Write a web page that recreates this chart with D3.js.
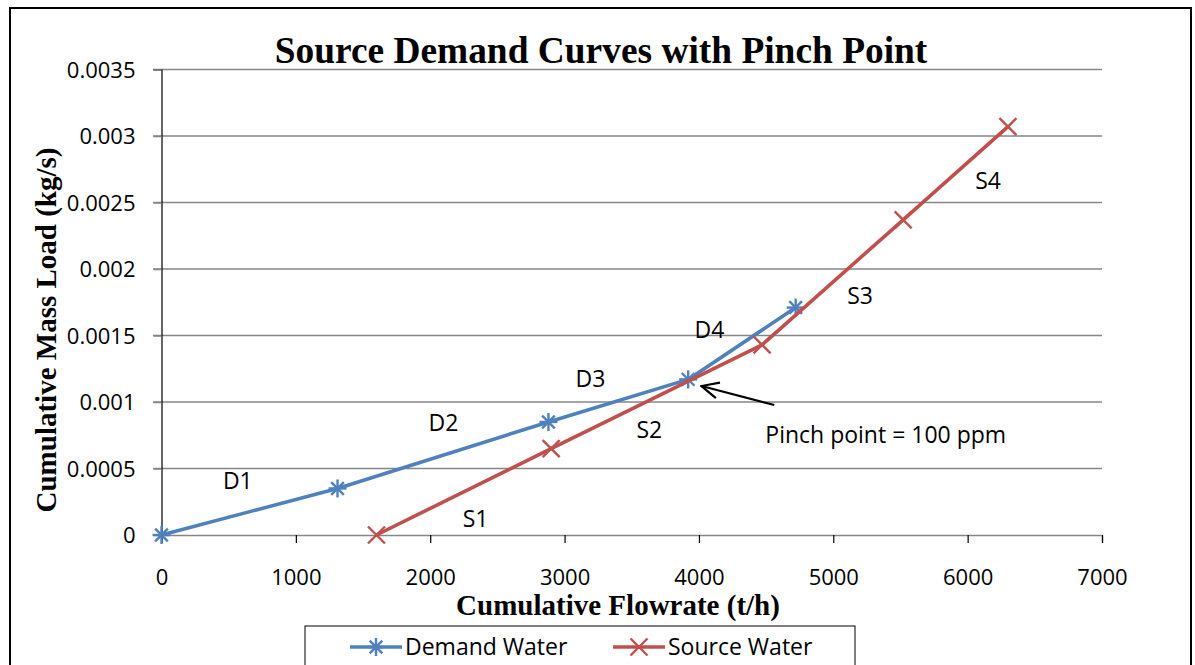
<!DOCTYPE html>
<html>
<head>
<meta charset="utf-8">
<script src="https://cdn.jsdelivr.net/npm/d3@7"></script>
<style>
  html, body { margin: 0; padding: 0; background: #fff; }
  svg { display: block; }
  .tick-label { font-family: "Open Sans", sans-serif; font-size: 22px; fill: #000; }
  .ann { font-family: "Open Sans", sans-serif; font-size: 23px; fill: #000; }
  .serif-bold { font-family: "Liberation Serif", "Times New Roman", serif; font-weight: bold; fill: #000; }
</style>
</head>
<body>
<svg id="chart" width="1195" height="665"></svg>
<script>
// Cumulative flowrate (t/h) and cumulative mass load (kg/s) for each composite curve
const demandFlow = [0, 1310, 2880, 3920, 4720];
const demandLoad = [0, 0.00035, 0.00085, 0.00117, 0.00171];
const sourceFlow = [1600, 2900, 4470, 5520, 6300];
const sourceLoad = [0, 0.00065, 0.00143, 0.00237, 0.00307];

const xTicks = [0, 1000, 2000, 3000, 4000, 5000, 6000, 7000];
const yTicks = [0, 0.0005, 0.001, 0.0015, 0.002, 0.0025, 0.003, 0.0035];
const yTickLabels = ["0", "0.0005", "0.001", "0.0015", "0.002", "0.0025", "0.003", "0.0035"];

// Segment labels, placed in data units (flowrate, load)
const segLabels = ["D1", "D2", "D3", "D4", "S1", "S2", "S3", "S4"];
const segLabelFlow = [457, 1988, 3082, 3967, 2242, 3535, 5104, 6056];
const segLabelLoad = [0.000346, 0.000782, 0.001113, 0.001481, 0.00006, 0.000729, 0.001737, 0.002602];

// Pinch annotation
const pinchText = "Pinch point = 100 ppm";
const pinchTextAt = [4494, 0.000692];
const pinchArrowFrom = [4561, 0.000977];
const pinchArrowTo = [4019, 0.00112];

const seriesNames = ["Demand Water", "Source Water"];
const blue = "#4F81BD", red = "#C0504D";

const svg = d3.select("#chart");

const x = d3.scaleLinear().domain([0, 7000]).range([161.5, 1102]);
const y = d3.scaleLinear().domain([0, 0.0035]).range([535, 69.5]);

// Outer chart frame
svg.append("rect")
  .attr("x", 10).attr("y", 8)
  .attr("width", 1181).attr("height", 680)
  .attr("fill", "none").attr("stroke", "#000").attr("stroke-width", 2);

// Horizontal gridlines (extend left as tick marks)
svg.append("g").selectAll("line")
  .data(yTicks.slice(1))
  .join("line")
  .attr("x1", 153).attr("x2", 1102)
  .attr("y1", d => y(d)).attr("y2", d => y(d))
  .attr("stroke", "#868686").attr("stroke-width", 1.5);

// Y axis
const yAxis = d3.axisLeft(y).tickValues(yTicks)
  .tickFormat((d, i) => yTickLabels[i]).tickSize(8).tickPadding(18);
const gy = svg.append("g").attr("transform", `translate(${x(0)},0)`).call(yAxis);
gy.select(".domain").attr("stroke", "#000").attr("stroke-width", 1.2);
gy.selectAll(".tick line").attr("stroke", "#868686").attr("stroke-width", 1.5);
gy.selectAll(".tick text").attr("class", "tick-label").attr("dy", "0.36em");

// X axis
const xAxis = d3.axisBottom(x).tickValues(xTicks)
  .tickFormat(d3.format("d")).tickSize(8).tickPadding(26);
const gx = svg.append("g").attr("transform", `translate(0,${y(0)})`).call(xAxis);
gx.select(".domain").attr("stroke", "#868686").attr("stroke-width", 1.5);
gx.selectAll(".tick line").attr("stroke", "#000").attr("stroke-width", 1.2);
gx.selectAll(".tick text").attr("class", "tick-label");

// Titles
svg.append("text").attr("class", "serif-bold")
  .attr("x", 601).attr("y", 63).attr("text-anchor", "middle")
  .style("font-size", "37.4px")
  .text("Source Demand Curves with Pinch Point");

svg.append("text").attr("class", "serif-bold")
  .attr("x", 618).attr("y", 615).attr("text-anchor", "middle")
  .style("font-size", "29px")
  .text("Cumulative Flowrate (t/h)");

svg.append("text").attr("class", "serif-bold")
  .attr("transform", "translate(56,330) rotate(-90)")
  .attr("text-anchor", "middle")
  .style("font-size", "29px")
  .text("Cumulative Mass Load (kg/s)");

// Marker shapes
function asterisk(g, cx, cy, r, color) {
  const a = r * Math.SQRT1_2;
  const segs = [[-r, 0, r, 0], [0, -r, 0, r], [-a, -a, a, a], [-a, a, a, -a]];
  g.append("g").selectAll("line").data(segs).join("line")
    .attr("x1", s => cx + s[0]).attr("y1", s => cy + s[1])
    .attr("x2", s => cx + s[2]).attr("y2", s => cy + s[3])
    .attr("stroke", color).attr("stroke-width", 2.4);
}
function cross(g, cx, cy, r, color) {
  const segs = [[-r, -r, r, r], [-r, r, r, -r]];
  g.append("g").selectAll("line").data(segs).join("line")
    .attr("x1", s => cx + s[0]).attr("y1", s => cy + s[1])
    .attr("x2", s => cx + s[2]).attr("y2", s => cy + s[3])
    .attr("stroke", color).attr("stroke-width", 2.4);
}

const line = d3.line().x(d => x(d[0])).y(d => y(d[1]));
const demand = demandFlow.map((f, i) => [f, demandLoad[i]]);
const source = sourceFlow.map((f, i) => [f, sourceLoad[i]]);

const plot = svg.append("g");
plot.append("path").datum(demand).attr("d", line)
  .attr("fill", "none").attr("stroke", blue).attr("stroke-width", 3.6).attr("stroke-linejoin", "round");
demand.forEach(d => asterisk(plot, x(d[0]), y(d[1]), 9, blue));

plot.append("path").datum(source).attr("d", line)
  .attr("fill", "none").attr("stroke", red).attr("stroke-width", 3.6).attr("stroke-linejoin", "round");
source.forEach(d => cross(plot, x(d[0]), y(d[1]), 8.5, red));

// Segment labels
svg.append("g").selectAll("text")
  .data(segLabels)
  .join("text").attr("class", "ann")
  .attr("x", (d, i) => x(segLabelFlow[i]))
  .attr("y", (d, i) => y(segLabelLoad[i]))
  .text(d => d);

// Pinch point arrow and note
svg.append("defs").append("marker")
  .attr("id", "openArrow")
  .attr("viewBox", "0 0 20 18").attr("refX", 18).attr("refY", 9)
  .attr("markerWidth", 20).attr("markerHeight", 18)
  .attr("markerUnits", "userSpaceOnUse")
  .attr("orient", "auto")
  .append("path").attr("d", "M1,1 L18,9 L1,17")
  .attr("fill", "none").attr("stroke", "#000").attr("stroke-width", 2.2);

svg.append("line")
  .attr("x1", x(pinchArrowFrom[0])).attr("y1", y(pinchArrowFrom[1]))
  .attr("x2", x(pinchArrowTo[0])).attr("y2", y(pinchArrowTo[1]))
  .attr("stroke", "#000").attr("stroke-width", 2.2)
  .attr("marker-end", "url(#openArrow)");

svg.append("text").attr("class", "ann")
  .attr("x", x(pinchTextAt[0])).attr("y", y(pinchTextAt[1]))
  .text(pinchText);

// Legend
const legend = svg.append("g");
legend.append("rect")
  .attr("x", 305).attr("y", 626).attr("width", 550).attr("height", 60)
  .attr("fill", "#fff").attr("stroke", "#000").attr("stroke-width", 1);

const legendItems = [
  { name: seriesNames[0], color: blue, x0: 350, shape: asterisk, r: 9 },
  { name: seriesNames[1], color: red, x0: 613, shape: cross, r: 8.5 }
];
legendItems.forEach(it => {
  legend.append("line")
    .attr("x1", it.x0).attr("x2", it.x0 + 52)
    .attr("y1", 647).attr("y2", 647)
    .attr("stroke", it.color).attr("stroke-width", 3.6);
  it.shape(legend, it.x0 + 26, 647, it.r, it.color);
  legend.append("text").attr("class", "ann")
    .attr("x", it.x0 + 55).attr("y", 655)
    .text(it.name);
});
</script>
</body>
</html>
